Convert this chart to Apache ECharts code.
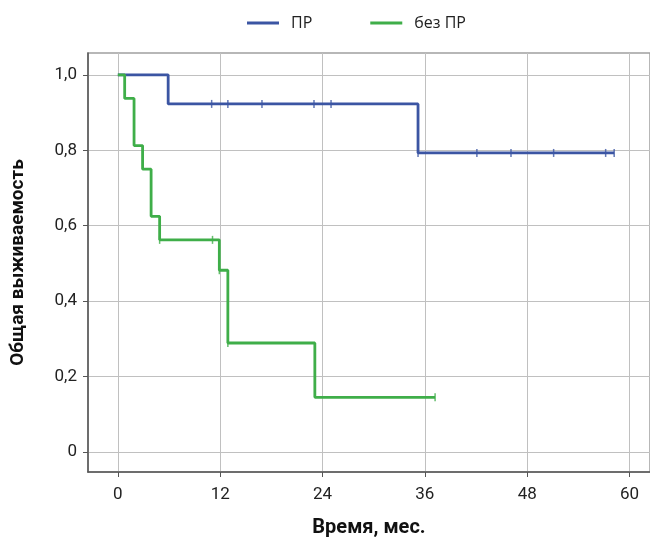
<!DOCTYPE html>
<html>
<head>
<meta charset="utf-8">
<script src="https://cdn.jsdelivr.net/npm/echarts@6/dist/echarts.min.js"></script>
<style>
  html, body { margin: 0; padding: 0; background: #fff; }
  #chart { width: 650px; height: 537px; }
</style>
</head>
<body>
<div id="chart"></div>
<script>
// Кривые выживаемости (Каплан-Мейер), месяцы / доля
const xTicks = [0, 12, 24, 36, 48, 60];
const yTicks = [0, 0.2, 0.4, 0.6, 0.8, 1.0];

const prSteps = [[0, 1], [5.9, 0.923], [35.2, 0.793], [58.2, 0.793]];
const prCensored = [[11.0, 0.923], [12.9, 0.923], [16.9, 0.923], [23.0, 0.923], [25.0, 0.923],
  [35.2, 0.793], [42.1, 0.793], [46.1, 0.793], [51.1, 0.793], [57.2, 0.793], [58.2, 0.793]];

const noPrSteps = [[0, 1], [0.8, 0.9375], [1.9, 0.8125], [2.9, 0.75], [3.9, 0.625], [4.9, 0.5625],
  [11.9, 0.482], [12.9, 0.289], [23.1, 0.145], [37.2, 0.145]];
const noPrCensored = [[4.9, 0.5625], [11.1, 0.5625], [11.9, 0.482], [12.9, 0.289], [37.2, 0.145]];

const blue = '#3b55a3';
const green = '#3fae49';

const chart = echarts.init(document.getElementById('chart'));

const tickFont = { fontFamily: 'Roboto', fontSize: 17, color: '#222' };

chart.setOption({
  animation: false,
  legend: {
    top: 10,
    left: 242,
    itemWidth: 32,
    itemHeight: 3,
    itemGap: 58,
    data: [
      { name: 'ПР', icon: 'rect' },
      { name: 'без ПР', icon: 'rect' }
    ],
    textStyle: { fontFamily: 'Open Sans', fontSize: 16, color: '#222', padding: [0, 0, 0, 7] }
  },
  grid: {
    left: 88,
    right: 0,
    top: 53,
    bottom: 65,
    outerBoundsMode: 'none',
    show: true,
    borderColor: '#a0a0a0',
    borderWidth: 1.5
  },
  xAxis: {
    type: 'value',
    min: -3.5,
    max: 62.4,
    name: 'Время, мес.',
    nameLocation: 'middle',
    nameGap: 46,
    nameTextStyle: { fontFamily: 'Roboto', fontWeight: 'bold', fontSize: 20, color: '#111' },
    axisLine: { show: true, onZero: false, lineStyle: { color: '#555', width: 1.5 } },
    axisTick: { show: true, customValues: xTicks, length: 5, lineStyle: { color: '#555' } },
    axisLabel: { customValues: xTicks, margin: 14, ...tickFont },
    splitLine: { show: true, lineStyle: { color: '#c0c0c0', width: 1 } }
  },
  yAxis: {
    type: 'value',
    min: -0.053,
    max: 1.058,
    name: 'Общая выживаемость',
    nameLocation: 'middle',
    nameGap: 60,
    nameTextStyle: { fontFamily: 'Roboto', fontWeight: 'bold', fontSize: 19, color: '#111' },
    axisLine: { show: true, onZero: false, lineStyle: { color: '#555', width: 1.5 } },
    axisTick: { show: true, customValues: yTicks, length: 5, lineStyle: { color: '#555' } },
    axisLabel: {
      customValues: yTicks,
      margin: 11,
      formatter: v => v === 0 ? '0' : v.toFixed(1).replace('.', ','),
      ...tickFont
    },
    splitLine: { show: true, lineStyle: { color: '#c0c0c0', width: 1 } }
  },
  series: [
    {
      name: 'ПР',
      type: 'line',
      step: 'end',
      data: prSteps,
      showSymbol: false,
      color: blue,
      lineStyle: { width: 2.8, color: blue }
    },
    {
      name: 'без ПР',
      type: 'line',
      step: 'end',
      data: noPrSteps,
      showSymbol: false,
      color: green,
      lineStyle: { width: 2.8, color: green }
    },
    {
      name: 'ПР цензур.',
      type: 'scatter',
      data: prCensored,
      symbol: 'rect',
      symbolSize: [1.5, 8],
      itemStyle: { color: blue }
    },
    {
      name: 'без ПР цензур.',
      type: 'scatter',
      data: noPrCensored,
      symbol: 'rect',
      symbolSize: [1.5, 8],
      itemStyle: { color: green }
    }
  ]
});
</script>
</body>
</html>
